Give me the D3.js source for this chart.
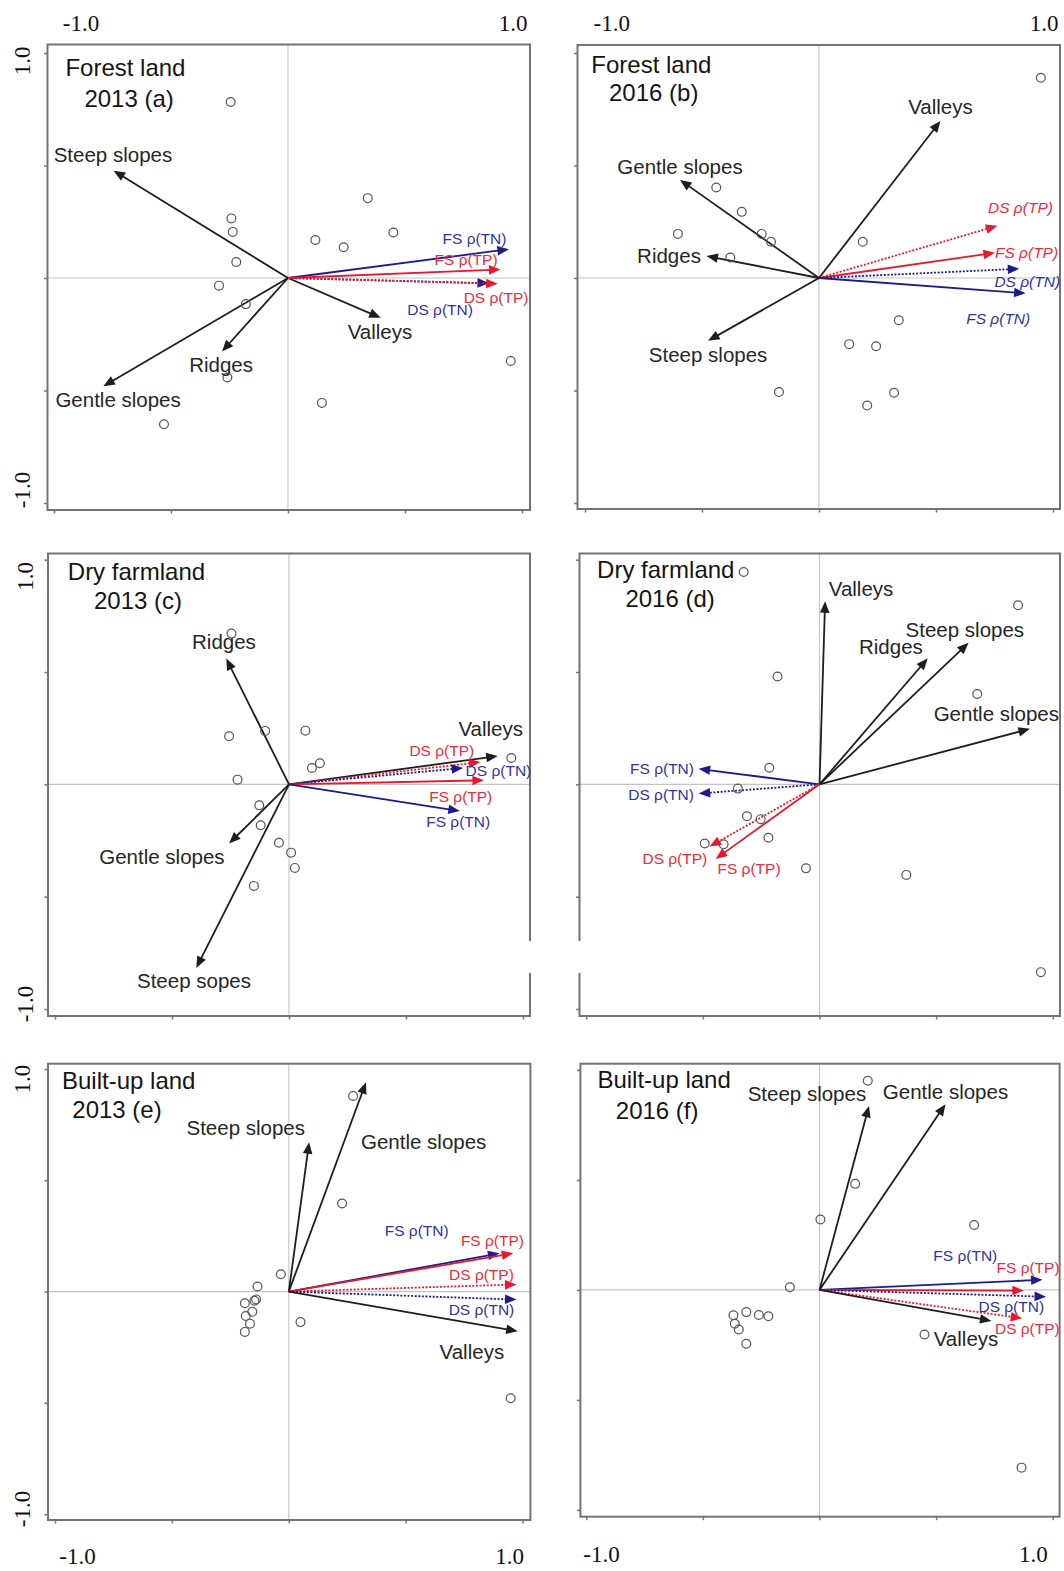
<!DOCTYPE html>
<html><head><meta charset="utf-8">
<script src="https://cdn.jsdelivr.net/npm/d3@7"></script>
<style>body{margin:0;background:#fff}</style>
</head><body>
<svg id="chart" width="1064" height="1571"></svg>
<script>
// ---------------- DATA ----------------
const panelTitles = [
  ["Forest land", "2013 (a)"],
  ["Forest land", "2016 (b)"],
  ["Dry farmland", "2013 (c)"],
  ["Dry farmland", "2016 (d)"],
  ["Built-up land", "2013 (e)"],
  ["Built-up land", "2016 (f)"]
];
const tickValues = [-1, -0.5, 0, 0.5, 1];
const tickLabels = ["-1.0", "1.0"];

// arrows: [label, x, y]   (RDA scores)
const arrowsA = [["Steep slopes",-0.745,0.477],["Gentle slopes",-0.789,-0.481],["Ridges",-0.282,-0.327],["Valleys",0.396,-0.177],
  ["FS ρ(TN)",0.944,0.128],["FS ρ(TP)",0.908,0.038],["DS ρ(TN)",0.859,-0.023],["DS ρ(TP)",0.896,-0.026]];
const arrowsB = [["Valleys",0.519,0.698],["Gentle slopes",-0.594,0.436],["Ridges",-0.481,0.098],["Steep slopes",-0.474,-0.279],
  ["DS ρ(TP)",0.762,0.232],["FS ρ(TP)",0.752,0.112],["DS ρ(TN)",0.856,0.041],["FS ρ(TN)",0.883,-0.068]];
const arrowsC = [["Ridges",-0.268,0.560],["Gentle slopes",-0.256,-0.263],["Steep sopes",-0.396,-0.817],["Valleys",0.892,0.126],
  ["DS ρ(TP)",0.818,0.099],["DS ρ(TN)",0.744,0.073],["FS ρ(TP)",0.833,0.018],["FS ρ(TN)",0.730,-0.119]];
const arrowsD = [["Valleys",0.024,0.815],["Ridges",0.464,0.561],["Steep slopes",0.639,0.630],["Gentle slopes",0.902,0.247],
  ["FS ρ(TN)",-0.518,0.069],["DS ρ(TN)",-0.518,-0.041],["DS ρ(TP)",-0.471,-0.277],["FS ρ(TP)",-0.445,-0.332]];
const arrowsE = [["Steep slopes",0.087,0.671],["Gentle slopes",0.330,0.940],["FS ρ(TN)",0.901,0.172],["FS ρ(TP)",0.960,0.172],
  ["DS ρ(TP)",0.974,0.032],["DS ρ(TN)",0.974,-0.036],["Valleys",0.979,-0.178]];
const arrowsF = [["Steep slopes",0.212,0.836],["Gentle slopes",0.540,0.844],["FS ρ(TN)",0.956,0.046],["FS ρ(TP)",0.876,-0.003],
  ["DS ρ(TN)",0.971,-0.031],["DS ρ(TP)",0.869,-0.129],["Valleys",0.737,-0.141]];

// label anchors (same order as arrows), in score units
const labelsA = [[-0.748,0.548],[-0.726,-0.542],[-0.286,-0.384],[0.393,-0.237],[0.797,0.175],[0.761,0.082],[0.650,-0.139],[0.889,-0.086]];
const labelsB = [[0.519,0.762],[-0.594,0.495],[-0.641,0.101],[-0.474,-0.339],[0.861,0.315],[0.887,0.112],[0.890,-0.014],[0.766,-0.181]];
const labelsC = [[-0.278,0.638],[-0.543,-0.322],[-0.406,-0.873],[0.862,0.247],[0.653,0.150],[0.895,0.062],[0.734,-0.053],[0.723,-0.164]];
const labelsD = [[0.178,0.871],[0.306,0.612],[0.623,0.688],[0.758,0.316],[-0.675,0.069],[-0.679,-0.046],[-0.620,-0.329],[-0.302,-0.376]];
const labelsE = [[-0.184,0.738],[0.577,0.674],[0.547,0.274],[0.871,0.230],[0.824,0.078],[0.824,-0.079],[0.783,-0.269]];
const labelsF = [[-0.054,0.894],[0.540,0.900],[0.625,0.157],[0.894,0.102],[0.822,-0.074],[0.891,-0.177],[0.628,-0.221]];

// sample sites
const sitesA = [[-0.245,0.782],[-0.242,0.265],[-0.236,0.205],[-0.221,0.071],[-0.295,-0.034],[-0.180,-0.116],[-0.259,-0.442],
  [-0.530,-0.650],[0.117,0.169],[0.238,0.137],[0.341,0.355],[0.450,0.202],[0.952,-0.369],[0.145,-0.555]];
const sitesB = [[0.948,0.890],[-0.439,0.402],[-0.330,0.294],[-0.245,0.196],[-0.205,0.161],[-0.603,0.196],[-0.379,0.091],
  [0.187,0.161],[0.341,-0.188],[0.129,-0.294],[0.244,-0.303],[-0.171,-0.507],[0.321,-0.510],[0.206,-0.567]];
const sitesC = [[-0.246,0.671],[-0.256,0.214],[-0.102,0.238],[0.070,0.239],[-0.220,0.021],[0.098,0.073],[0.132,0.094],
  [0.950,0.117],[-0.127,-0.093],[-0.121,-0.182],[-0.043,-0.260],[0.009,-0.304],[0.025,-0.372],[-0.150,-0.452]];
const sitesD = [[-0.325,0.945],[0.851,0.797],[-0.180,0.480],[0.676,0.402],[-0.215,0.074],[-0.350,-0.019],[-0.311,-0.142],
  [-0.252,-0.155],[-0.219,-0.238],[-0.492,-0.263],[-0.411,-0.267],[-0.058,-0.374],[0.372,-0.403],[0.949,-0.836]];
const sitesE = [[0.275,0.879],[0.228,0.396],[-0.034,0.078],[-0.134,0.023],[-0.140,-0.035],[-0.147,-0.041],[-0.188,-0.052],
  [-0.156,-0.090],[-0.184,-0.110],[-0.166,-0.144],[-0.188,-0.181],[0.050,-0.137],[0.949,-0.479]];
const sitesF = [[0.207,0.951],[0.153,0.482],[0.004,0.320],[0.663,0.295],[-0.127,0.012],[-0.314,-0.101],[-0.260,-0.114],
  [-0.219,-0.120],[-0.369,-0.115],[-0.363,-0.154],[-0.346,-0.180],[-0.314,-0.245],[0.450,-0.203],[0.866,-0.808]];

// ---------------- LAYOUT ----------------
const layout = [
  {frame:[47.5,44.5,530,510],   xr:[54,522],      yr:[503,53],      t1:[65.4,67.6], t2:[84.4,98],   top:[[81,23.7],[513,23.7]], left:[22.4,[490,60.8]], italic:false},
  {frame:[577.5,45,1060,509],   xr:[585,1053],    yr:[503,53],      t1:[591.3,64.2], t2:[609,92],   top:[[611.7,23],[1044,23]], italic:true},
  {frame:[48,553.5,530,1016],   xr:[55,523],      yr:[1009,559.7],  t1:[67.8,571.4], t2:[94,600.6], left:[25.8,[1004,576.4]], italic:false},
  {frame:[579.5,553.5,1060,1016], xr:[586.2,1052.8], yr:[1009,559.7], t1:[597.1,569], t2:[625.4,598.6], italic:false},
  {frame:[48,1063.7,530.4,1520], xr:[55,522.6],   yr:[1514.2,1069], t1:[62,1080.6], t2:[72.3,1109.4], bottom:[[77.5,1556],[509.7,1556]], left:[22.4,[1509,1079]], italic:false},
  {frame:[580.4,1063.7,1059.6,1516.7], xr:[586.2,1052.8], yr:[1509.9,1069.9], t1:[597.4,1079.6], t2:[615.8,1110], bottom:[[601.5,1554.7],[1033.4,1554.7]], italic:false}
];
const panelArrows = [arrowsA, arrowsB, arrowsC, arrowsD, arrowsE, arrowsF];
const panelLabels = [labelsA, labelsB, labelsC, labelsD, labelsE, labelsF];
const panelSites = [sitesA, sitesB, sitesC, sitesD, sitesE, sitesF];

const BLUE = "#1c1c8c", BLUE_T = "#3232a2", RED = "#e8192c", RED_T = "#ec2a3c", BLACK = "#1e1e1e";
const sansFont = "Liberation Sans, Arial, sans-serif";
const serifFont = "Liberation Serif, Times New Roman, serif";

const svg = d3.select("#chart");

function drawArrow(g, x0, y0, x1, y1, color, dotted) {
  const dx = x1 - x0, dy = y1 - y0, L = Math.hypot(dx, dy);
  const ux = dx / L, uy = dy / L, hl = 11.5, hw = 4.8;
  const bx = x1 - ux * hl, by = y1 - uy * hl;
  g.append("line").attr("x1", x0).attr("y1", y0).attr("x2", bx + ux * 2).attr("y2", by + uy * 2)
    .attr("stroke", color).attr("stroke-width", 1.8)
    .attr("stroke-dasharray", dotted ? "2,1.6" : null);
  g.append("path")
    .attr("d", `M${x1},${y1}L${bx - uy * hw},${by + ux * hw}L${bx + uy * hw},${by - ux * hw}Z`)
    .attr("fill", color);
}

layout.forEach((L, i) => {
  const g = svg.append("g");
  const x = d3.scaleLinear().domain([-1, 1]).range(L.xr);
  const y = d3.scaleLinear().domain([-1, 1]).range(L.yr);
  const [fx0, fy0, fx1, fy1] = L.frame;

  // zero lines
  g.append("line").attr("x1", x(0)).attr("x2", x(0)).attr("y1", fy0).attr("y2", fy1)
    .attr("stroke", "#c4c4c4").attr("stroke-width", 1.1);
  g.append("line").attr("x1", fx0).attr("x2", fx1).attr("y1", y(0)).attr("y2", y(0))
    .attr("stroke", "#c4c4c4").attr("stroke-width", 1.1);

  // frame
  g.append("rect").attr("x", fx0).attr("y", fy0).attr("width", fx1 - fx0).attr("height", fy1 - fy0)
    .attr("fill", "none").attr("stroke", "#737373").attr("stroke-width", 2);

  // ticks
  const axL = g.append("g").attr("transform", `translate(${fx0},0)`)
    .call(d3.axisLeft(y).tickValues(tickValues).tickSize(3.5).tickFormat(""));
  const axB = g.append("g").attr("transform", `translate(0,${fy1})`)
    .call(d3.axisBottom(x).tickValues(tickValues).tickSize(3.5).tickFormat(""));
  [axL, axB].forEach(a => { a.select(".domain").remove(); a.selectAll("line").attr("stroke", "#737373").attr("stroke-width", 1.5); });

  // tick labels
  const tl = (px, py, txt, rot) => g.append("text").attr("x", px).attr("y", py)
    .attr("transform", rot ? `rotate(-90,${px},${py})` : null)
    .attr("text-anchor", "middle").attr("dominant-baseline", "central")
    .attr("font-family", serifFont).attr("font-size", 23).attr("fill", "#111").text(txt);
  if (L.top) { tl(L.top[0][0], L.top[0][1], tickLabels[0]); tl(L.top[1][0], L.top[1][1], tickLabels[1]); }
  if (L.bottom) { tl(L.bottom[0][0], L.bottom[0][1], tickLabels[0]); tl(L.bottom[1][0], L.bottom[1][1], tickLabels[1]); }
  if (L.left) { tl(L.left[0], L.left[1][0], tickLabels[0], true); tl(L.left[0], L.left[1][1], tickLabels[1], true); }

  // title
  g.append("text").attr("x", L.t1[0]).attr("y", L.t1[1]).attr("dominant-baseline", "central")
    .attr("font-family", sansFont).attr("font-size", 24).attr("fill", "#151515").text(panelTitles[i][0]);
  g.append("text").attr("x", L.t2[0]).attr("y", L.t2[1]).attr("dominant-baseline", "central")
    .attr("font-family", sansFont).attr("font-size", 24).attr("fill", "#151515").text(panelTitles[i][1]);

  // arrows
  const arr = panelArrows[i];
  arr.forEach(a => {
    const nm = a[0];
    const isTN = nm.includes("(TN)"), isTP = nm.includes("(TP)");
    const color = isTN ? BLUE : isTP ? RED : BLACK;
    drawArrow(g, x(0), y(0), x(a[1]), y(a[2]), color, nm.startsWith("DS"));
  });

  // sites
  g.selectAll("circle.site").data(panelSites[i]).enter().append("circle")
    .attr("cx", d => x(d[0])).attr("cy", d => y(d[1])).attr("r", 4.4)
    .attr("fill", "none").attr("stroke", "#555").attr("stroke-width", 1.2);

  // labels
  arr.forEach((a, j) => {
    const nm = a[0];
    const isTN = nm.includes("(TN)"), isTP = nm.includes("(TP)");
    const small = isTN || isTP;
    g.append("text").attr("x", x(panelLabels[i][j][0])).attr("y", y(panelLabels[i][j][1]))
      .attr("text-anchor", "middle").attr("dominant-baseline", "central")
      .attr("font-family", sansFont).attr("font-size", small ? 15.5 : 20.5)
      .attr("font-style", small && L.italic ? "italic" : null)
      .attr("fill", isTN ? BLUE_T : isTP ? RED_T : "#262626").text(nm);
  });
});

// white gap present in the reference between panels c and d
svg.append("rect").attr("x", 293).attr("y", 941).attr("width", 293).attr("height", 32).attr("fill", "#fff");
</script>
</body></html>
